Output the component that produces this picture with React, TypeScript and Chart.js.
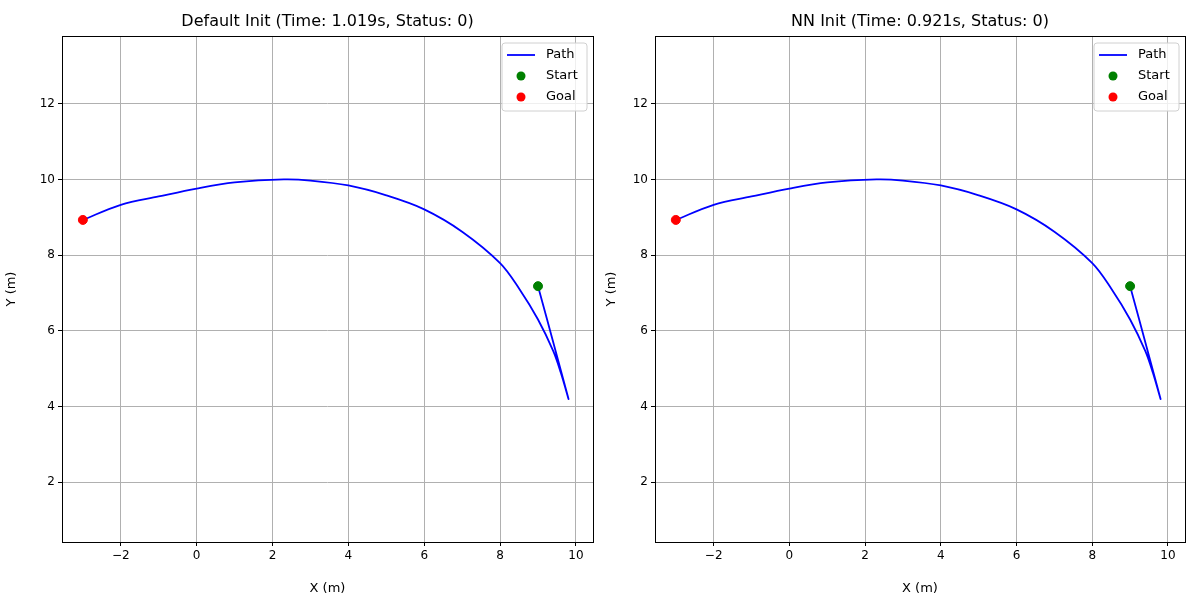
import { useEffect, useRef } from "react";
import { Chart, registerables } from "chart.js";

Chart.register(...registerables);

// path: start -> bottom turn -> arc -> goal
const pathX = [9.0, 9.8, 9.6, 9.4, 9.0, 8.5, 8.0, 7.0, 6.0, 5.0, 4.0, 3.0, 2.3, 1.0, 0.0, -1.0, -2.0, -3.0];
const pathY = [7.18, 4.22, 4.9, 5.47, 6.3, 7.12, 7.79, 8.62, 9.21, 9.58, 9.84, 9.97, 10.0, 9.92, 9.76, 9.55, 9.33, 8.93];
const startPt = { x: 9.0, y: 7.18 };
const goalPt = { x: -3.0, y: 8.93 };
const titles = ["Default Init (Time: 1.019s, Status: 0)", "NN Init (Time: 0.921s, Status: 0)"];
const xTicks = [-2, 0, 2, 4, 6, 8, 10];
const yTicks = [2, 4, 6, 8, 10, 12];

const FONT = "DejaVu Sans";

const framePlugin = {
  id: "frame",
  afterDraw(chart: any, _a: any, opts: any) {
    const { ctx, chartArea: a } = chart;
    ctx.save();
    ctx.strokeStyle = "#000";
    ctx.lineWidth = 1;
    ctx.strokeRect(a.left + 0.5, a.top + 0.5, a.right - a.left, a.bottom - a.top);
    // title
    ctx.fillStyle = "#000";
    ctx.font = `16px "${FONT}"`;
    ctx.textAlign = "center";
    ctx.textBaseline = "middle";
    ctx.fillText(opts.title, (a.left + a.right) / 2, 22);
    // legend
    const w = 85, h = 68;
    const lx = a.right - w - 6, ly = a.top + 7;
    ctx.fillStyle = "rgba(255,255,255,0.8)";
    ctx.strokeStyle = "#d0d0d0";
    ctx.beginPath();
    ctx.roundRect(lx, ly, w, h, 3);
    ctx.fill();
    ctx.stroke();
    ctx.font = `13px "${FONT}"`;
    ctx.textAlign = "left";
    const items = [
      { label: "Path", type: "line", color: "#0000ff" },
      { label: "Start", type: "dot", color: "#008000" },
      { label: "Goal", type: "dot", color: "#ff0000" },
    ];
    items.forEach((it, i) => {
      const cy = ly + 12 + i * 21;
      if (it.type === "line") {
        ctx.strokeStyle = it.color;
        ctx.lineWidth = 1.8;
        ctx.beginPath();
        ctx.moveTo(lx + 5, cy);
        ctx.lineTo(lx + 33, cy);
        ctx.stroke();
      } else {
        ctx.fillStyle = it.color;
        ctx.beginPath();
        ctx.arc(lx + 19, cy, 4.5, 0, Math.PI * 2);
        ctx.fill();
      }
      ctx.fillStyle = "#000";
      ctx.fillText(it.label, lx + 44, cy);
    });
    ctx.restore();
  },
};

function Panel({ title, yWidth, padRight }: { title: string; yWidth: number; padRight: number }) {
  const ref = useRef<HTMLCanvasElement>(null);
  const inst = useRef<Chart | null>(null);

  useEffect(() => {
    if (!ref.current) return;
    if (inst.current) inst.current.destroy();
    const ctx = ref.current.getContext("2d");
    if (!ctx) return;
    inst.current = new Chart(ctx, {
      type: "scatter",
      data: {
        datasets: [
          { label: "Start", data: [startPt], backgroundColor: "#008000", borderColor: "#008000", pointRadius: 4.5, order: 0 },
          { label: "Goal", data: [goalPt], backgroundColor: "#ff0000", borderColor: "#ff0000", pointRadius: 4.5, order: 0 },
          {
            label: "Path",
            data: pathX.map((x, i) => ({ x, y: pathY[i] })),
            showLine: true,
            borderColor: "#0000ff",
            borderWidth: 1.8,
            pointRadius: 0,
            tension: 0.35,
            order: 1,
          },
        ],
      },
      options: {
        animation: false,
        responsive: true,
        maintainAspectRatio: false,
        layout: { padding: { top: 36, right: padRight, left: 0, bottom: 0 } },
        plugins: {
          legend: { display: false },
          tooltip: { enabled: false },
          frame: { title },
        } as any,
        scales: {
          x: {
            type: "linear",
            min: -3.55,
            max: 10.45,
            afterBuildTicks: (s: any) => { s.ticks = xTicks.map((v) => ({ value: v })); },
            afterFit: (s: any) => { s.height = 58; },
            grid: { color: "#b0b0b0", tickColor: "#000", tickLength: 4 },
            border: { display: false },
            ticks: { color: "#000", font: { family: FONT, size: 12 }, maxRotation: 0, callback: (v: any) => (v < 0 ? "\u2212" + Math.abs(v) : String(v)) },
            title: { display: true, text: "X (m)", color: "#000", font: { family: FONT, size: 13 }, padding: { top: 2 } },
          },
          y: {
            type: "linear",
            min: 0.42,
            max: 13.79,
            afterBuildTicks: (s: any) => { s.ticks = yTicks.map((v) => ({ value: v })); },
            afterFit: (s: any) => { s.width = yWidth; },
            grid: { color: "#b0b0b0", tickColor: "#000", tickLength: 4 },
            border: { display: false },
            ticks: { color: "#000", font: { family: FONT, size: 12 } },
            title: { display: true, text: "Y (m)", color: "#000", font: { family: FONT, size: 13 }, padding: { bottom: 4 } },
          },
        },
      },
      plugins: [framePlugin],
    });
    return () => {
      if (inst.current) inst.current.destroy();
      inst.current = null;
    };
  }, []);

  return (
    <div style={{ width: 600, height: 600, position: "relative" }}>
      <canvas ref={ref} />
    </div>
  );
}

export default function App() {
  useEffect(() => {
    document.body.style.margin = "0";
  }, []);
  return (
    <div style={{ display: "flex", width: 1200, height: 600, background: "#fff" }}>
      <Panel title={titles[0]} yWidth={62} padRight={7} />
      <Panel title={titles[1]} yWidth={55} padRight={15} />
    </div>
  );
}
